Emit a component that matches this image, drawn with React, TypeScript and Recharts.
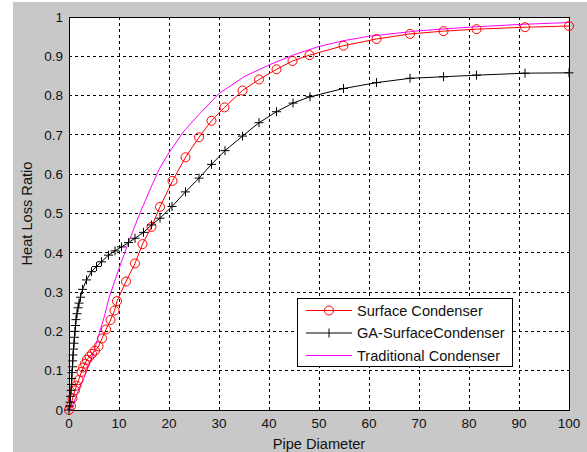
import React from 'react';
import { LineChart, Line, XAxis, YAxis, CartesianGrid, ReferenceArea, Legend } from 'recharts';

const xTicks = [0, 10, 20, 30, 40, 50, 60, 70, 80, 90, 100];
const yTicks = [0, 0.1, 0.2, 0.3, 0.4, 0.5, 0.6, 0.7, 0.8, 0.9, 1];

const seriesNames = ['Surface Condenser', 'GA-SurfaceCondenser', 'Traditional Condenser'];

// Surface Condenser (red, circles)
const surfaceX = [0, 0.4, 0.7, 1.2, 1.5, 1.9, 2.5, 2.8, 3.2, 3.6, 4.1, 4.6, 5.2, 5.9, 6.6, 7.4, 8.3, 9.1, 9.6, 11.4, 13.2, 14.7, 16.5, 18.2, 20.7, 23.3, 26, 28.5, 31.1, 34.7, 38, 41.5, 44.7, 48.1, 54.9, 61.5, 68.2, 74.9, 81.5, 91.2, 100];
const surfaceY = [0, 0.01, 0.03, 0.05, 0.062, 0.076, 0.097, 0.108, 0.118, 0.128, 0.136, 0.143, 0.151, 0.162, 0.182, 0.205, 0.229, 0.253, 0.277, 0.327, 0.373, 0.422, 0.466, 0.517, 0.583, 0.643, 0.694, 0.736, 0.77, 0.813, 0.841, 0.867, 0.888, 0.903, 0.927, 0.944, 0.957, 0.964, 0.969, 0.974, 0.977];

// GA-SurfaceCondenser (black, plus)
const gaX = [0, 0.1, 0.2, 0.3, 0.4, 0.5, 0.55, 0.6, 0.7, 0.75, 0.8, 0.9, 1.0, 1.1, 1.2, 1.3, 1.4, 1.6, 1.8, 2.0, 2.3, 2.7, 3.5, 4.5, 5.5, 6.5, 7.9, 9.2, 10.5, 11.9, 13.2, 14.9, 16.5, 18.2, 20.6, 23.3, 26, 28.5, 31.2, 34.7, 38, 41.5, 44.8, 48.2, 54.9, 61.5, 68.2, 74.9, 81.5, 91.2, 100];
const gaY = [0, 0.01, 0.02, 0.035, 0.05, 0.065, 0.08, 0.095, 0.11, 0.125, 0.14, 0.155, 0.17, 0.185, 0.2, 0.215, 0.23, 0.245, 0.26, 0.272, 0.287, 0.307, 0.331, 0.352, 0.365, 0.377, 0.394, 0.405, 0.415, 0.426, 0.437, 0.452, 0.471, 0.488, 0.518, 0.555, 0.59, 0.625, 0.66, 0.697, 0.731, 0.759, 0.781, 0.797, 0.818, 0.833, 0.844, 0.848, 0.852, 0.857, 0.858];

// Traditional Condenser (magenta, no markers)
const tradX = [0.3, 1, 2, 3, 4, 5, 6, 7, 8, 10, 11, 12, 14, 16, 18, 20, 23, 26, 30, 35, 40, 45, 50, 55, 60, 70, 80, 90, 100];
const tradY = [0, 0.02, 0.055, 0.082, 0.115, 0.15, 0.193, 0.235, 0.285, 0.36, 0.395, 0.43, 0.495, 0.555, 0.612, 0.655, 0.71, 0.752, 0.805, 0.848, 0.878, 0.904, 0.925, 0.94, 0.951, 0.965, 0.974, 0.981, 0.986];

const toPoints = (xs: number[], ys: number[]) => xs.map((x, i) => ({ x, y: ys[i] }));

const surfaceData = toPoints(surfaceX, surfaceY);
const gaData = toPoints(gaX, gaY);
const tradData = toPoints(tradX, tradY);

const FONT = '"Liberation Sans", Arial, sans-serif';
const TEXT = '#111';

const PlusDot = (props: any) => {
  const { cx, cy, index } = props;
  if (cx == null || cy == null) return null;
  return (
    <path
      key={`plus-${index}`}
      d={`M${cx - 4.5},${cy}H${cx + 4.5}M${cx},${cy - 4.5}V${cy + 4.5}`}
      stroke="#000"
      strokeWidth={1}
      fill="none"
    />
  );
};

const LegendBox = () => {
  const rows = [12.5, 35, 57.5];
  const colors = ['#ff0000', '#000000', '#ff00ff'];
  return (
    <svg width={216} height={70} style={{ display: 'block' }}>
      <rect x={0.5} y={0.5} width={215} height={68} fill="#fff" stroke="#000" />
      {seriesNames.map((name, i) => (
        <g key={name}>
          <line x1={9} x2={55} y1={rows[i]} y2={rows[i]} stroke={colors[i]} strokeWidth={1} />
          {i === 0 && <circle cx={32} cy={rows[i]} r={4.5} fill="none" stroke={colors[i]} />}
          {i === 1 && (
            <path d={`M32,${rows[i] - 4.5}V${rows[i] + 4.5}`} stroke={colors[i]} />
          )}
          <text x={60} y={rows[i] + 5} fontSize={14.6} fill={TEXT} fontFamily={FONT}>
            {name}
          </text>
        </g>
      ))}
    </svg>
  );
};

export default function App() {
  return (
    <div style={{ position: 'absolute', left: 0, top: 0, width: 587, height: 452, background: '#fff' }}>
      <div style={{ position: 'absolute', left: 13, top: 2, right: 0, bottom: 0, background: '#c8c8c8' }} />
      <div style={{ position: 'absolute', left: 0, top: 0 }}>
        <LineChart
          width={587}
          height={452}
          margin={{ top: 17, right: 18, bottom: 0, left: 0 }}
          style={{ fontFamily: FONT }}
        >
          <CartesianGrid fill="#fff" stroke="#000" strokeDasharray="3 3" shapeRendering="crispEdges" />
          <XAxis
            type="number"
            dataKey="x"
            domain={[0, 100]}
            ticks={xTicks}
            height={42}
            axisLine={false}
            tickLine={false}
            tick={{ fill: TEXT, fontSize: 13.5 }}
            label={{ value: 'Pipe Diameter', position: 'insideBottom', offset: 3, fill: TEXT, fontSize: 14.6 }}
          />
          <YAxis
            type="number"
            dataKey="y"
            domain={[0, 1]}
            ticks={yTicks}
            width={69}
            axisLine={false}
            tickLine={false}
            tickSize={4}
            tick={{ fill: TEXT, fontSize: 13.5 }}
            label={{ value: 'Heat Loss Ratio', angle: -90, position: 'center', dx: -8, fill: TEXT, fontSize: 14.6 }}
          />
          <ReferenceArea
            x1={0}
            x2={100}
            y1={0}
            y2={1}
            fill="none"
            stroke="#000"
            strokeWidth={1}
            fillOpacity={0}
            shapeRendering="crispEdges"
          />
          <Line
            data={surfaceData}
            dataKey="y"
            name={seriesNames[0]}
            type="linear"
            stroke="#ff0000"
            strokeWidth={1}
            dot={{ r: 4.5, stroke: '#ff0000', fill: 'none', strokeWidth: 1 }}
            activeDot={false}
            isAnimationActive={false}
          />
          <Line
            data={gaData}
            dataKey="y"
            name={seriesNames[1]}
            type="linear"
            stroke="#000"
            strokeWidth={1}
            dot={PlusDot}
            activeDot={false}
            isAnimationActive={false}
          />
          <Line
            data={tradData}
            dataKey="y"
            name={seriesNames[2]}
            type="linear"
            stroke="#ff00ff"
            strokeWidth={1}
            dot={false}
            activeDot={false}
            isAnimationActive={false}
          />
          <Legend
            layout="horizontal"
            verticalAlign="middle"
            align="center"
            content={() => <LegendBox />}
            wrapperStyle={{ position: 'absolute', left: 297, top: 298, width: 216, height: 70 }}
          />
        </LineChart>
      </div>
    </div>
  );
}
